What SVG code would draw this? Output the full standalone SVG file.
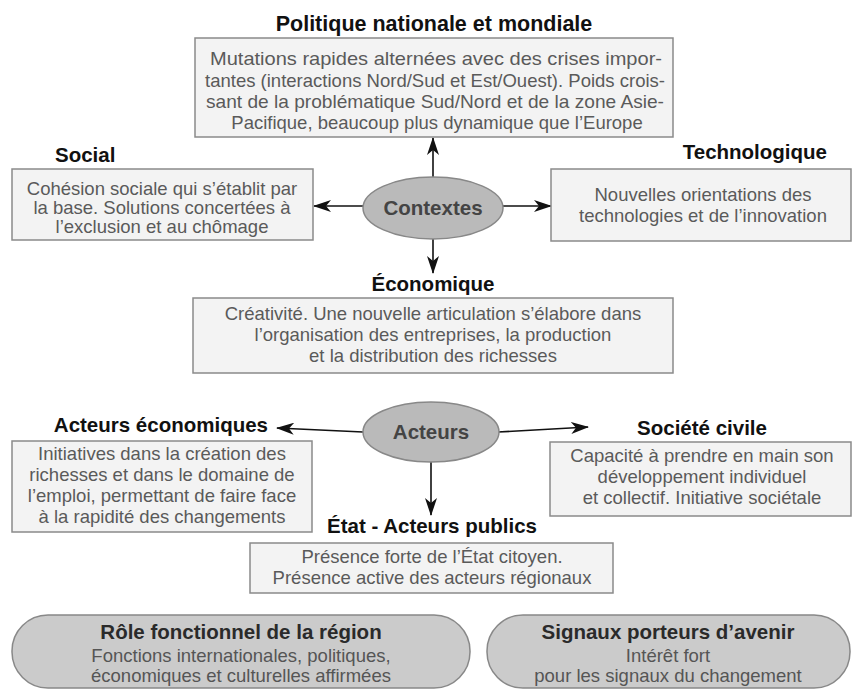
<svg xmlns="http://www.w3.org/2000/svg" width="853" height="690" viewBox="0 0 853 690">
<defs>
<marker id="ah" viewBox="0 0 18 12" refX="17" refY="6" markerWidth="18" markerHeight="12" markerUnits="userSpaceOnUse" orient="auto">
<path d="M0,0 L18,6 L0,12 L5,6 z" fill="#111"/>
</marker>
<style>
.lbl{font-family:"Liberation Sans",Arial,sans-serif;font-weight:bold;font-size:20.5px;fill:#111}
.ttl{font-family:"Liberation Sans",Arial,sans-serif;font-weight:bold;font-size:21.5px;fill:#111}
.box{fill:#f3f3f3;stroke:#8a8a8a;stroke-width:1.5}
.txt{font-family:"Liberation Sans",Arial,sans-serif;font-size:18.5px;fill:#5a5a5a;text-anchor:middle}
.ell{fill:#bababa;stroke:#888;stroke-width:1.5}
.etxt{font-family:"Liberation Sans",Arial,sans-serif;font-weight:bold;font-size:20.5px;fill:#444;text-anchor:middle}
.pill{fill:#cbcbcb;stroke:#888;stroke-width:1.5}
.ptl{font-family:"Liberation Sans",Arial,sans-serif;font-weight:bold;font-size:20.5px;fill:#2a2a2a;text-anchor:middle}
.ptx{font-family:"Liberation Sans",Arial,sans-serif;font-size:18.5px;fill:#555;text-anchor:middle}
.con{stroke:#111;stroke-width:1.6;fill:none;marker-end:url(#ah)}
</style>
</defs>
<rect width="853" height="690" fill="#ffffff"/>

<g id="connectors">
<line class="con" x1="433" y1="177" x2="433" y2="138"/>
<line class="con" x1="363" y1="206" x2="314" y2="206"/>
<line class="con" x1="503" y1="206" x2="551" y2="206"/>
<line class="con" x1="433" y1="239" x2="433" y2="273"/>
<line class="con" x1="363" y1="432" x2="277" y2="428"/>
<line class="con" x1="498" y1="432" x2="588" y2="427"/>
<line class="con" x1="431" y1="462" x2="431" y2="515"/>
</g>

<g id="politique">
<text class="ttl" x="434" y="31" text-anchor="middle">Politique nationale et mondiale</text>
<rect class="box" x="195" y="38" width="478" height="99"/>
<text class="txt" x="436" y="65" textLength="452" lengthAdjust="spacingAndGlyphs">Mutations rapides alternées avec des crises impor-</text>
<text class="txt" x="435" y="86.5" textLength="460" lengthAdjust="spacingAndGlyphs">tantes (interactions Nord/Sud et Est/Ouest). Poids crois-</text>
<text class="txt" x="435" y="108" textLength="458" lengthAdjust="spacingAndGlyphs">sant de la problématique Sud/Nord et de la zone Asie-</text>
<text class="txt" x="437" y="129">Pacifique, beaucoup plus dynamique que l’Europe</text>
</g>

<g id="social">
<text class="lbl" x="55" y="162">Social</text>
<rect class="box" x="12" y="169" width="301" height="71"/>
<text class="txt" x="162" y="195">Cohésion sociale qui s’établit par</text>
<text class="txt" x="162" y="214">la base. Solutions concertées à</text>
<text class="txt" x="162" y="233">l’exclusion et au chômage</text>
</g>

<g id="contextes">
<ellipse class="ell" cx="433" cy="208" rx="70" ry="31"/>
<text class="etxt" x="433" y="215">Contextes</text>
</g>

<g id="technologique">
<text class="lbl" x="827" y="159" text-anchor="end">Technologique</text>
<rect class="box" x="551" y="169" width="300" height="72"/>
<text class="txt" x="703" y="201">Nouvelles orientations des</text>
<text class="txt" x="703" y="222">technologies et de l’innovation</text>
</g>

<g id="economique">
<text class="lbl" x="433" y="291" text-anchor="middle">Économique</text>
<rect class="box" x="193" y="298" width="480" height="75"/>
<text class="txt" x="433" y="320">Créativité. Une nouvelle articulation s’élabore dans</text>
<text class="txt" x="433" y="341">l’organisation des entreprises, la production</text>
<text class="txt" x="433" y="362">et la distribution des richesses</text>
</g>

<g id="acteurs">
<ellipse class="ell" cx="431" cy="432" rx="68" ry="30"/>
<text class="etxt" x="431" y="439">Acteurs</text>
</g>

<g id="acteurs-economiques">
<text class="lbl" x="268" y="432" text-anchor="end">Acteurs économiques</text>
<rect class="box" x="12" y="441" width="300" height="91"/>
<text class="txt" x="162" y="460">Initiatives dans la création des</text>
<text class="txt" x="162" y="481">richesses et dans le domaine de</text>
<text class="txt" x="162" y="502">l’emploi, permettant de faire face</text>
<text class="txt" x="162" y="523">à la rapidité des changements</text>
</g>

<g id="societe-civile">
<text class="lbl" x="702" y="435" text-anchor="middle">Société civile</text>
<rect class="box" x="550" y="442" width="301" height="74"/>
<text class="txt" x="702" y="462">Capacité à prendre en main son</text>
<text class="txt" x="702" y="483">développement individuel</text>
<text class="txt" x="702" y="504">et collectif. Initiative sociétale</text>
</g>

<g id="etat">
<text class="lbl" x="432" y="533" text-anchor="middle">État - Acteurs publics</text>
<rect class="box" x="250" y="543" width="363" height="50"/>
<text class="txt" x="432" y="563">Présence forte de l’État citoyen.</text>
<text class="txt" x="432" y="584">Présence active des acteurs régionaux</text>
</g>

<g id="role">
<rect class="pill" x="12" y="615" width="458" height="73" rx="36" ry="36"/>
<text class="ptl" x="241" y="639">Rôle fonctionnel de la région</text>
<text class="ptx" x="241" y="662">Fonctions internationales, politiques,</text>
<text class="ptx" x="241" y="682">économiques et culturelles affirmées</text>
</g>

<g id="signaux">
<rect class="pill" x="487" y="615" width="363" height="73" rx="36" ry="36"/>
<text class="ptl" x="668" y="639">Signaux porteurs d’avenir</text>
<text class="ptx" x="668" y="662">Intérêt fort</text>
<text class="ptx" x="668" y="682">pour les signaux du changement</text>
</g>
</svg>
